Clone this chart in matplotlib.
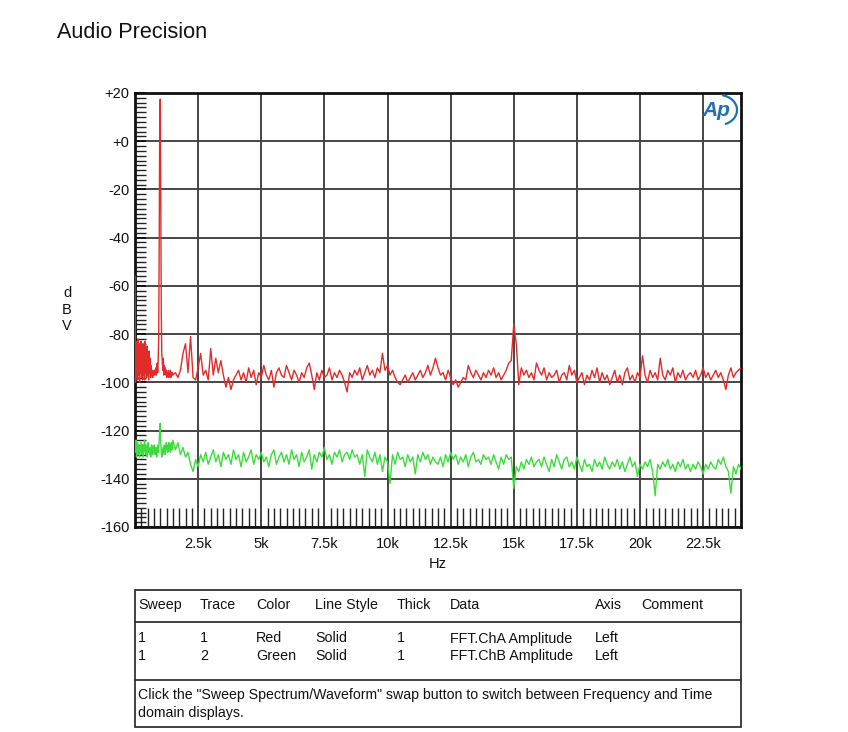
import numpy as np
import matplotlib
matplotlib.use('Agg')
import matplotlib.pyplot as plt
from matplotlib.patches import Rectangle, Arc
from matplotlib.lines import Line2D
from matplotlib.ticker import FixedLocator, MultipleLocator

plt.rcParams['font.family'] = ['Liberation Sans', 'DejaVu Sans']

# ---------------- data ----------------
freq_lo = np.arange(0, 1500, 20)          # Hz, fine resolution near the fundamental
freq_hi = np.arange(1500, 24001, 100)     # Hz

cha_lo = [
    -56, -100, -83, -98, -85, -99, -82, -97, -86, -100,
    -84, -96, -83, -98, -85, -99, -84, -97, -86, -99,
    -83, -96, -87, -98, -85, -97, -88, -99, -87, -96,
    -90, -98, -93, -97, -95, -98, -96, -97, -95, -97,
    -96, -94, -97, -95, -92, -96, -90, -80, -40, 10,
    17.5, -20, -70, -88, -91, -95, -90, -97, -93, -96,
    -94, -97, -95, -98, -96, -97, -95, -98, -96, -97,
    -95, -98, -96, -97, -96,
]
cha_hi = [
    -97, -96, -98, -95, -88,
    -84, -96, -81, -98, -99, -94, -88, -97, -95, -99,
    -86, -97, -90, -96, -91, -97, -102, -98, -103, -99,
    -97, -95, -99, -96, -100, -94, -98, -95, -101, -96,
    -98, -93, -97, -99, -95, -102, -96, -94, -97, -98,
    -93, -96, -99, -95, -97, -100, -96, -98, -94, -92,
    -97, -103, -96, -99, -95, -98, -97, -94, -99, -96,
    -98, -95, -97, -100, -104, -96, -98, -95, -97, -94,
    -99, -96, -93, -97, -95, -98, -94, -96, -88, -95,
    -93, -97, -95, -98, -100, -101, -99, -97, -100, -98,
    -96, -99, -97, -95, -98, -96, -93, -97, -94, -90,
    -94, -97, -96, -99, -95, -98, -101, -99, -102, -100,
    -98, -99, -93, -96, -98, -95, -97, -99, -96, -98,
    -95, -97, -94, -98, -96, -99, -97, -95, -92, -91,
    -76, -84, -101, -94, -97, -95, -98, -96, -99, -92,
    -95, -97, -94, -99, -96, -98, -97, -95, -100, -97,
    -96, -99, -93, -97, -95, -100, -98, -96, -101, -97,
    -99, -95, -98, -94, -100, -96, -99, -97, -101, -98,
    -95, -100, -97, -101, -96, -94, -99, -97, -100, -96,
    -98, -89, -97, -100, -95, -98, -96, -99, -90, -97,
    -99, -95, -97, -94, -100, -96, -98, -95, -99, -97,
    -96, -98, -95, -99, -97, -94, -98, -96, -99, -97,
    -95, -98, -96, -99, -103, -97, -94, -98, -96, -95,
    -94,
]
chb_lo = [
    -126, -129, -124, -131, -127, -125, -130, -128, -126, -131,
    -129, -127, -125, -130, -128, -126, -131, -129, -127, -124,
    -128, -130, -126, -129, -131, -127, -125, -129, -128, -130,
    -127, -131, -129, -126, -128, -130, -127, -129, -126, -128,
    -130, -127, -129, -131, -128, -126, -129, -127, -124, -119,
    -117, -125, -129, -131, -128, -130, -127, -129, -126, -128,
    -130, -127, -125, -128, -126, -129, -127, -125, -128, -126,
    -129, -127, -125, -128, -126,
]
chb_hi = [
    -124, -128, -125, -130, -127,
    -131, -129, -134, -137, -132, -135, -130, -133, -129, -134,
    -131, -128, -133, -130, -135, -129, -132, -130, -134, -128,
    -132, -130, -135, -129, -133, -131, -128, -134, -130, -132,
    -129, -133, -131, -135, -130, -128, -134, -131, -129, -133,
    -130, -134, -128, -132, -130, -135, -129, -133, -131, -128,
    -136, -130, -133, -129, -131, -127, -132, -130, -134, -129,
    -131, -128, -133, -130, -129, -132, -128, -131, -130, -134,
    -130, -139, -128, -131, -133, -129, -134, -130, -137, -131,
    -133, -142, -130, -134, -129, -132, -131, -135, -130, -133,
    -131, -138, -130, -133, -129, -132, -130, -134, -131, -133,
    -134, -131, -135, -130, -133, -129, -132, -130, -134, -131,
    -133, -130, -135, -131, -129, -133, -132, -134, -130, -132,
    -131, -134, -130, -133, -136, -131, -134, -130, -132, -131,
    -144, -135, -137, -133, -136, -132, -134, -131, -135, -133,
    -132, -135, -131, -134, -137, -132, -135, -130, -133, -136,
    -132, -131, -135, -133, -136, -131, -134, -137, -132, -135,
    -134, -137, -132, -135, -133, -136, -131, -134, -136, -133,
    -135, -132, -136, -133, -137, -134, -131, -135, -133, -139,
    -134, -136, -133, -135, -132, -137, -147, -134, -136, -133,
    -135, -132, -136, -134, -137, -133, -135, -132, -136, -134,
    -137, -134, -136, -133, -135, -138, -134, -136, -133, -135,
    -136, -132, -134, -131, -135, -137, -146, -135, -138, -134,
    -136,
]

x_ticks = [2500, 5000, 7500, 10000, 12500, 15000, 17500, 20000, 22500]
x_tick_labels = ['2.5k', '5k', '7.5k', '10k', '12.5k', '15k', '17.5k', '20k', '22.5k']
y_ticks = [-160, -140, -120, -100, -80, -60, -40, -20, 0, 20]
y_tick_labels = ['-160', '-140', '-120', '-100', '-80', '-60', '-40', '-20', '+0', '+20']

table_header = ['Sweep', 'Trace', 'Color', 'Line Style', 'Thick', 'Data', 'Axis', 'Comment']
table_rows = [
    ['1', '1', 'Red', 'Solid', '1', 'FFT.ChA Amplitude', 'Left', ''],
    ['1', '2', 'Green', 'Solid', '1', 'FFT.ChB Amplitude', 'Left', ''],
]
footer_lines = ['Click the "Sweep Spectrum/Waveform" swap button to switch between Frequency and Time',
                'domain displays.']

freq = np.concatenate([freq_lo, freq_hi])
cha = np.array(cha_lo + cha_hi, dtype=float)
chb = np.array(chb_lo + chb_hi, dtype=float)

# ---------------- figure ----------------
W, H = 848, 732
fig = plt.figure(figsize=(W / 100, H / 100), dpi=100)
fig.patch.set_facecolor('white')


def fx(px):
    return px / W


def fy(py):
    return 1 - py / H


ax = fig.add_axes([fx(135), fy(527), fx(741) - fx(135), fy(93) - fy(527)])
ax.set_xlim(0, 24000)
ax.set_ylim(-160, 20)

ax.plot(freq, chb, color='#3ddc3d', lw=1.0, zorder=3)
ax.plot(freq, cha, color='#e22b2b', lw=1.0, zorder=4)

ax.xaxis.set_major_locator(FixedLocator(x_ticks))
ax.set_xticklabels(x_tick_labels)
ax.yaxis.set_major_locator(FixedLocator(y_ticks))
ax.set_yticklabels(y_tick_labels)
ax.xaxis.set_minor_locator(MultipleLocator(250))
ax.yaxis.set_minor_locator(MultipleLocator(2))

ax.grid(True, which='major', color='#454545', lw=1.4, zorder=1)
ax.tick_params(axis='x', which='major', length=0, pad=7, labelsize=10.5, colors='#111111')
ax.tick_params(axis='y', which='major', direction='in', length=8, width=1.3, pad=4,
               labelsize=10.5, colors='#111111')
ax.tick_params(axis='x', which='minor', direction='in', length=14, width=1.0, color='#222222',
               bottom=True, top=False)
ax.tick_params(axis='y', which='minor', direction='in', length=8, width=1.0, color='#222222',
               left=True, right=False)
for s in ax.spines.values():
    s.set_linewidth(2.0)
    s.set_color('#111111')

# axis labels
fig.text(fx(438), fy(564), 'Hz', ha='center', va='center', fontsize=10.5, color='#111111')
for i, ch in enumerate('dBV'):
    fig.text(fx(67), fy(293 + i * 16.5), ch, ha='center', va='center', fontsize=10.5, color='#111111')

# title
fig.text(fx(57), fy(33), 'Audio Precision', ha='left', va='center', fontsize=15.6, color='#111111')

# AP logo
fig.text(fx(716), fy(110), 'Ap', ha='center', va='center', fontsize=15, fontstyle='italic',
         color='#1f6fb4', fontweight='bold', family=['Liberation Sans', 'DejaVu Sans'])
fig.add_artist(Arc((fx(719), fy(110)), width=36 / W, height=30 / H, theta1=-70, theta2=80,
                   transform=fig.transFigure, color='#1f6fb4', lw=1.6))

# ---------------- table ----------------
tl, tr, tt, tb = 135, 741, 590, 727
fig.add_artist(Rectangle((fx(tl), fy(tb)), fx(tr) - fx(tl), fy(tt) - fy(tb),
                         transform=fig.transFigure, fill=False, ec='#333333', lw=1.3))
for yy in (622, 680):
    fig.add_artist(Line2D([fx(tl), fx(tr)], [fy(yy), fy(yy)], transform=fig.transFigure,
                          color='#333333', lw=1.3))
col_x = [138, 200, 256, 315, 397, 450, 595, 641]
for cx, h in zip(col_x, table_header):
    fig.text(fx(cx), fy(605), h, ha='left', va='center', fontsize=10.3, color='#111111')
for r, row in enumerate(table_rows):
    for cx, v in zip(col_x, row):
        fig.text(fx(cx), fy(638.5 + r * 17.5), v, ha='left', va='center', fontsize=10.3, color='#111111')
for i, line in enumerate(footer_lines):
    fig.text(fx(138), fy(695.5 + i * 17), line, ha='left', va='center', fontsize=10.2, color='#111111')

fig.savefig('out.png', dpi=100, facecolor='white')
